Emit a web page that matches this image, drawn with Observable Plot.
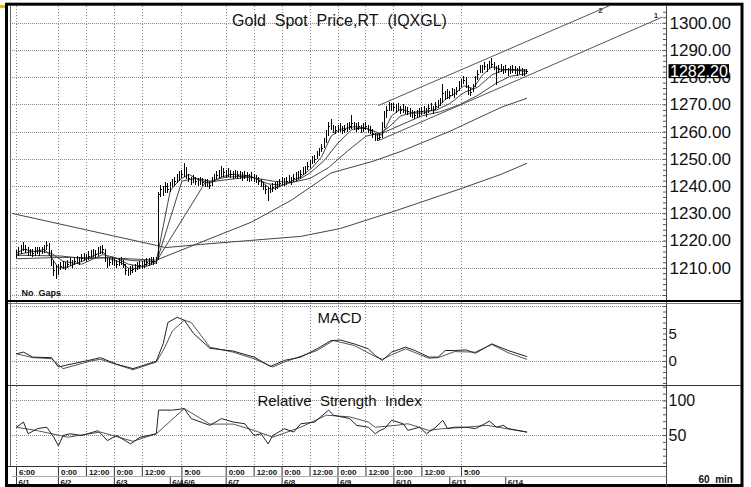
<!DOCTYPE html>
<html><head><meta charset="utf-8">
<script src="https://cdn.jsdelivr.net/npm/d3@7"></script>
<script src="https://cdn.jsdelivr.net/npm/@observablehq/plot@0.6"></script>
<style>
html,body{margin:0;padding:0;background:#fff;}
#wrap{position:relative;width:751px;height:487px;overflow:hidden;background:#fff;}
#corner{position:absolute;left:0;top:5px;width:5px;height:3px;background:#f5b400;}
</style></head><body><div id="wrap"><div id="corner"></div></div>
<script>
// ---------- DATA (hourly bars, index 0 = 6/1 6:00) ----------
const closes = [
1215,1216,1217,1218,1217,1216,1216,1215.5,1216,1216.5,
1216,1216.5,1217,1218.5,1216,1212,1209,1208,1210,1210.5,
1211,1210.5,1211.5,1212,1211.5,1212.5,1213,1212.5,1213.5,1214,
1213.5,1214.5,1215,1215.5,1215,1216,1216.5,1217,1213,1211.5,
1212,1212.5,1212,1211.5,1212,1212.5,1211.5,1209,1208,1209,
1209.5,1210,1210.5,1211,1211,1211.5,1212,1212,1212.5,1212.5,
1213,1237,1239,1238,1240,1239,1240,1241,1242,1243,
1244,1244.5,1246,1244,1243,1242,1242.5,1242,1241.5,1242,
1241.5,1241,1241,1240.5,1242,1243,1244,1244.5,1245,1245,
1244.5,1245,1244.5,1244,1244.5,1244,1244,1243.5,1244,1243.5,
1243,1243.5,1243,1242.5,1242,1241,1240,1239,1237,1239,
1239.5,1240,1240.5,1241,1242,1241.5,1242,1242.5,1242,1243,
1243.5,1244,1244.5,1245.5,1246,1247.5,1248,1249.5,1250,1251.5,
1252.5,1254,1256,1259,1262,1263,1261,1260.5,1261,1261.5,
1260.5,1261,1261.5,1262,1263,1262,1261.5,1262,1261,1261.5,
1262,1261,1260.5,1259,1258,1257.5,1258,1262,1266,1268,
1270,1269,1269,1268.5,1269,1268,1268.5,1268,1267.5,1267,
1266.5,1266,1266.5,1267,1267.5,1268,1267,1268.5,1269,1268,
1269.5,1270,1271,1274,1273,1274,1273.5,1274.5,1274,1275,
1277,1278,1279,1278,1275,1274.5,1276,1279,1281,1283,
1283,1284,1283.5,1284.5,1285,1284,1282,1283,1283.5,1282.5,
1283,1282,1282.5,1283,1282.5,1282,1282.5,1282,1281.8,1282.2];
const highs = [
1216.5,1217.5,1218.5,1219.3,1218.5,1217.5,1217,1217,1217.5,1217.5,
1217.5,1217.5,1218.5,1220,1219,1216.5,1213,1211,1211.5,1212,
1212.5,1212,1213,1213.5,1213,1214,1214.5,1214,1215,1215.5,
1215,1216,1216.5,1217,1216.5,1217.5,1218,1218.5,1217,1213.5,
1213.5,1214,1213.5,1213,1213.5,1214,1213,1211.5,1210,1210.5,
1211,1211.5,1212,1212.5,1212.5,1213,1213.5,1213.5,1214,1214,
1214,1238,1240.5,1240,1241.5,1241,1241.5,1242.5,1243.5,1244.5,
1245.5,1246,1248.5,1247,1244.5,1243.5,1244,1243.5,1243,1243.5,
1243,1242.5,1242.5,1242,1243.5,1244.5,1245.5,1246,1247.4,1246.5,
1246,1246.5,1246,1245.5,1246,1245.5,1245.5,1245,1245.5,1245,
1244.5,1245,1244.5,1244,1243.5,1242.5,1241.5,1240.5,1239.5,1240.5,
1241,1241.5,1242,1242.5,1243.5,1243,1243.5,1244,1243.5,1244.5,
1245,1245.5,1246,1247,1247.5,1249,1249.5,1251,1251.5,1253,
1254,1255.5,1257.5,1260.5,1263.5,1264.5,1262.5,1262,1262.5,1263,
1262,1262.5,1263,1263.5,1266,1263.5,1263,1263.5,1262.5,1263,
1263.5,1262.5,1262,1261,1259.5,1259,1259.5,1263.5,1267.5,1269.5,
1271,1270.5,1270.5,1270,1270.5,1269.5,1270,1269.5,1269,1268.5,
1268,1267.5,1268,1268.5,1269,1269.5,1268.5,1270,1270.5,1269.5,
1271,1271.5,1272.5,1277.6,1275,1275.5,1275,1276,1275.5,1276.5,
1278.5,1279.5,1280.5,1280,1277,1276,1277.5,1280.5,1282.5,1284.5,
1284.5,1285.5,1285,1286,1287,1285.5,1284,1284.5,1285,1284,
1284.5,1283.5,1284,1284.5,1284,1283.5,1284,1283.5,1283,1283];
const lows = [
1213.5,1214.5,1215,1216,1215.5,1214.5,1214.5,1214,1214.5,1215,
1214.5,1215,1215.5,1216.5,1214.5,1210.5,1207,1206,1207.5,1209,
1209.5,1209,1210,1210.5,1210,1211,1211.5,1211,1212,1212.5,
1212,1213,1213.5,1214,1213.5,1214.5,1215,1215,1212,1210,
1210.5,1211,1210.5,1210,1210.5,1211,1210,1207.5,1207,1207.5,
1208,1208.5,1209,1209.5,1209.5,1210,1210.5,1210.5,1211,1211,
1211.5,1213,1236,1236.5,1237.5,1237.5,1238,1239.5,1240,1241,
1242,1243,1243.5,1242.5,1241.5,1240.5,1241,1240.5,1240,1240.5,
1240,1239.5,1239.5,1239,1240,1241.5,1242.5,1243,1243.5,1243.5,
1243,1243.5,1243,1242.5,1243,1242.5,1242.5,1242,1242.5,1242,
1241.5,1242,1241.5,1241,1240.5,1239.5,1238.5,1237,1234.6,1237.5,
1238,1238.5,1239,1239.5,1240.5,1240,1240.5,1241,1240.5,1241.5,
1242,1242.5,1243,1244,1244.5,1246,1246.5,1248,1248.5,1250,
1251,1252.5,1254,1256,1258.5,1260.5,1259.5,1259,1259.5,1260,
1259,1259.5,1260,1260.5,1261,1260.5,1260,1260.5,1259.5,1260,
1260.5,1259.5,1259,1257.5,1256.6,1256.6,1257,1257.5,1261.5,1265,
1267.5,1267.5,1267.5,1267,1267.5,1266.5,1267,1266.5,1266,1265.5,
1265,1264.5,1265,1265.5,1266,1266.5,1265.5,1267,1267.5,1266.5,
1268,1268.5,1269.5,1270.5,1271.5,1272,1272,1273,1272.5,1273.5,
1275,1276.5,1277.5,1276,1273.5,1273,1274.5,1276.5,1279,1281.5,
1281.5,1282.5,1282,1283,1283.5,1282.5,1277,1281.5,1282,1281,
1281.5,1280.5,1281,1281.5,1281,1280.5,1281,1280.5,1280.5,1281];

// moving averages: [bar index, price]
const ma5 = [[0,1215.5],[3,1217],[8,1216],[12,1217],[15,1214],[18,1210],[22,1210.5],[28,1212.5],[34,1215],[37,1216],[40,1213.5],[45,1212],[48,1210],[52,1210],[56,1211.5],[60,1212.5],[66,1238.5],[70,1242.5],[74,1244.5],[78,1242.5],[83,1241.2],[88,1243.5],[92,1244.5],[100,1244],[105,1242],[109,1239],[113,1240],[118,1242],[122,1243.5],[127,1247],[131,1251],[135,1258.5],[139,1261],[145,1262],[150,1261.5],[154,1259],[157,1259],[161,1266],[165,1268.5],[170,1267],[175,1267],[180,1268.5],[184,1272],[188,1274],[192,1277],[196,1276],[200,1281],[204,1284],[208,1283],[214,1282.7],[219,1282.3]];
const ma10 = [[0,1215],[9,1216.5],[15,1215.5],[20,1212.5],[28,1211.5],[37,1215],[42,1214],[48,1211.5],[55,1210.5],[60,1212],[71,1242],[77,1243],[83,1242],[90,1243.5],[100,1243.8],[108,1241],[114,1240.5],[120,1242],[126,1245],[132,1249.5],[138,1256],[144,1261],[150,1261.5],[156,1259.5],[160,1262],[165,1266],[172,1267.5],[180,1268],[186,1270.5],[192,1274.5],[198,1276.5],[204,1281],[210,1283],[219,1282.8]];
const ma20 = [[0,1214.8],[19,1214.5],[30,1213.5],[40,1214],[50,1212.8],[60,1212.5],[81,1241.5],[90,1242.5],[100,1243.5],[110,1242],[118,1241.5],[126,1243],[134,1247],[142,1253],[150,1258.5],[158,1260],[166,1263],[174,1266],[182,1267.5],[190,1270],[198,1273.5],[206,1278],[212,1280.5],[219,1281.5]];
const ma40 = [[0,1213.5],[20,1214],[40,1213.8],[60,1213],[101,1227],[118,1235],[135,1245],[153,1249.3],[165,1252.9],[186,1260.3],[208,1269.1],[219,1272.4]];
const maLong = [[-1.7,1230.1],[60,1218.4],[64,1217.6],[79,1218.75],[100,1220.2],[122,1221.7],[139,1224.6],[162,1230.9],[191,1239.3],[208,1244.5],[219,1248.5]];

// trend channel lines (labelled 1 and 2)
const trend1 = [[155.4,1256.9],[277.1,1302.2]];
const trend2 = [[155.4,1269.8],[255.8,1306.9]];

// MACD and signal: [bar index, value]
const macdLine = [[0,1.4],[3,1.7],[7,0.8],[15,0.7],[18,-1.0],[21,-0.7],[32,0.3],[36,0.7],[43,-0.5],[50,-1.3],[60,0.05],[63,3.3],[65,7.1],[69,8.05],[72,7.5],[76,5.1],[83,2.4],[93,1.9],[102,0.8],[109,-0.9],[115,0.2],[122,0.8],[129,2.3],[135,3.8],[139,3.9],[145,3.2],[151,2.3],[154,1.1],[157,0.2],[161,1.7],[167,2.6],[171,2],[177,0.8],[181,0.8],[184,2],[188,2],[193,2.1],[197,1.5],[204,3.2],[211,2],[219,0.9]];
const macdSignal = [[0,1.4],[7,0.7],[15,0.5],[20,-1.3],[32,0.1],[36,0.4],[50,-1.5],[60,-0.1],[63,2],[67,5.6],[72,7.5],[75,7.1],[83,2.6],[93,1.7],[102,0.5],[110,-1.0],[115,-0.1],[129,2],[136,3.8],[145,2.9],[154,0.9],[157,0.4],[161,1.2],[167,2.3],[177,0.6],[181,0.7],[188,1.8],[197,1.7],[204,3.1],[211,1.6],[219,0.4]];

// RSI and its average: [bar index, value]
const rsiLine = [[0,62],[3,69.5],[5,52.5],[9,60],[13,62],[16,47.5],[18,35],[20,50],[23,52.5],[28,50],[33,55],[35,57],[39,42.6],[43,50],[49,37.8],[53,47.5],[60,52.5],[61,86.8],[67,86.8],[72,89],[75,74.5],[83,64.7],[88,74.5],[93,69.5],[98,67],[102,50],[105,52.5],[108,37.8],[110,50],[115,59.8],[119,55],[122,67],[128,69.5],[134,86.8],[136,79.4],[143,74.5],[146,64.7],[151,62],[154,52.5],[156,57.4],[158,60],[161,72],[166,67],[168,57.4],[173,62],[176,52.5],[180,62],[183,72],[185,60],[188,62],[193,62],[197,60],[201,67],[203,71],[206,62],[209,64.7],[211,60],[219,55]];
const rsiAvg = [[0,62],[9,57],[22,47.5],[36,55],[50,41.6],[60,52.5],[72,89],[83,66.5],[93,66.5],[102,57.4],[110,47.5],[122,62],[133,79.4],[143,77],[151,69.5],[154,62],[163,64.7],[168,67],[177,57.4],[183,60],[193,62],[202,64.7],[219,55]];

// axis ticks
const priceTicks = [1210,1220,1230,1240,1250,1260,1270,1280,1290,1300];
const priceGrid = [1200,1210,1220,1230,1240,1250,1260,1270,1280,1290,1300];
const macdTicks = [0,5];
const macdGrid = [0,10];
const rsiTicks = [50,100];
const timeTickIdx = [0,18,30,42,54,71,90,102,114,126,138,150,162,174,191];
const timeTickLabels = ["6:00","0:00","12:00","0:00","12:00","5:00","0:00","12:00","0:00","12:00","0:00","12:00","0:00","12:00","5:00"];
const dateTickIdx = [0,18,42,66,71,90,114,138,162,186,210];
const dateTickLabels = ["6/1","6/2","6/3","6/4","6/6","6/7","6/8","6/9","6/10","6/11","6/14"];
const lastPrice = 1282.20;

// ---------- DRAWING ----------
const FONT = '"Liberation Sans", Arial, sans-serif';
const wrap = document.getElementById("wrap");
const xDomain = [-1.717, 279];
const bars = closes.map((c, i) => ({i, c, h: highs[i], l: lows[i]}));
const timeTicks = timeTickIdx.map((i, k) => ({i, t: timeTickLabels[k]}));
const dateTicks = dateTickIdx.map((i, k) => ({i, t: dateTickLabels[k]}));
const gridH = {stroke: "#8a8a8a", strokeDasharray: "1,1", shapeRendering: "crispEdges"};
const gridV = {stroke: "#8a8a8a", strokeDasharray: "1,2", shapeRendering: "crispEdges"};
const lineStyle = {x: d => d[0], y: d => d[1], stroke: "#444", strokeWidth: 1, curve: "linear"};
function st(top) {
  return {position: "absolute", left: "0px", top: top + "px", background: "transparent", overflow: "visible", fontFamily: FONT, color: "#000"};
}
const minorPrice = d3.range(1200, 1306, 2);

const pricePlot = Plot.plot({
  width: 751, height: 300, marginLeft: 12, marginRight: 85, marginTop: 6, marginBottom: 1,
  x: {domain: xDomain, axis: null},
  y: {domain: [1198.53, 1306.13], axis: null},
  style: st(0),
  marks: [
    Plot.ruleY(priceGrid, gridH),
    Plot.ruleX(timeTickIdx, gridV),
    Plot.line(maLong, lineStyle),
    Plot.line(ma40, lineStyle),
    Plot.line(ma20, lineStyle),
    Plot.line(ma10, lineStyle),
    Plot.line(ma5, lineStyle),
    Plot.ruleX(bars, {x: "i", y1: "l", y2: "h", stroke: "#000", strokeWidth: 1, shapeRendering: "crispEdges"}),
    Plot.ruleY(bars, {y: "c", x1: "i", x2: d => d.i + 0.6, stroke: "#000", shapeRendering: "crispEdges"}),
    Plot.line(trend1, {...lineStyle, stroke: "#555", clip: true}),
    Plot.line(trend2, {...lineStyle, stroke: "#555", clip: true}),
    Plot.text([trend2[1]], {x: d => d[0], y: d => d[1], text: () => "2", dx: -12, dy: 6, fontSize: 8, fontWeight: "bold", fill: "#333"}),
    Plot.text([trend1[1]], {x: d => d[0], y: d => d[1], text: () => "1", dx: -6, dy: -2, fontSize: 8, fontWeight: "bold", fill: "#333"}),
    Plot.ruleY(minorPrice, {x1: xDomain[1] - 1.3, x2: xDomain[1], stroke: "#555"}),
    Plot.text(priceTicks, {y: d => d, text: d => d.toFixed(2), frameAnchor: "right", textAnchor: "start", dx: 3, fontSize: 17, fill: "#111"}),
    Plot.text(["Gold\u00a0 Spot\u00a0 Price,RT\u00a0 (IQXGL)"], {text: d => d, frameAnchor: "top", dy: 8.5, fontSize: 16, fill: "#111"}),
    Plot.text(["No\u00a0 Gaps"], {text: d => d, frameAnchor: "bottom-left", dx: 9, dy: -4, textAnchor: "start", fontSize: 9, fontWeight: "bold", fill: "#111"})
  ]
});
wrap.appendChild(pricePlot);
// last price marker on the price axis (covers the 1280.00 label as in the original)
{
  const y = pricePlot.scale("y").apply(lastPrice);
  const svg = d3.select(pricePlot);
  svg.append("rect").attr("x", 668.5).attr("y", y - 7).attr("width", 60.5).attr("height", 14).attr("fill", "#000");
  svg.append("text").attr("x", 670).attr("y", y + 6).attr("fill", "#fff").attr("text-anchor", "start")
    .attr("font-size", 16).attr("font-family", FONT).text(lastPrice.toFixed(2));
}

const macdPlot = Plot.plot({
  width: 751, height: 85, marginLeft: 12, marginRight: 85, marginTop: 2, marginBottom: 0,
  x: {domain: xDomain, axis: null},
  y: {domain: [-4.364, 10.727], axis: null},
  style: st(300),
  marks: [
    Plot.ruleY(macdGrid, gridH),
    Plot.ruleX(timeTickIdx, gridV),
    Plot.line(macdSignal, {...lineStyle, stroke: "#555"}),
    Plot.line(macdLine, {...lineStyle, stroke: "#222"}),
    Plot.ruleY(d3.range(-4, 11, 1), {x1: xDomain[1] - 1.3, x2: xDomain[1], stroke: "#555"}),
    Plot.text(macdTicks, {y: d => d, text: d => String(d), frameAnchor: "right", textAnchor: "start", dx: 2, fontSize: 15, fill: "#111"}),
    Plot.text(["MACD"], {text: d => d, frameAnchor: "top", dy: 10, fontSize: 15, fill: "#111"})
  ]
});
wrap.appendChild(macdPlot);

const rsiPlot = Plot.plot({
  width: 751, height: 81, marginLeft: 12, marginRight: 85, marginTop: 1, marginBottom: 0,
  x: {domain: xDomain, axis: null},
  y: {domain: [5.07, 121], axis: null},
  style: st(385),
  marks: [
    Plot.ruleY(rsiTicks, gridH),
    Plot.ruleX(timeTickIdx, gridV),
    Plot.line(rsiAvg, {...lineStyle, stroke: "#555"}),
    Plot.line(rsiLine, {...lineStyle, stroke: "#222"}),
    Plot.ruleY(d3.range(10, 121, 10), {x1: xDomain[1] - 1.3, x2: xDomain[1], stroke: "#555"}),
    Plot.text(rsiTicks, {y: d => d, text: d => String(d), frameAnchor: "right", textAnchor: "start", dx: 2, fontSize: 16, fill: "#111"}),
    Plot.text(["Relative\u00a0 Strength\u00a0 Index"], {text: d => d, frameAnchor: "top", dy: 9, fontSize: 15, fill: "#111"})
  ]
});
wrap.appendChild(rsiPlot);

const timeRow = Plot.plot({
  width: 751, height: 10, marginLeft: 12, marginRight: 85, marginTop: 0, marginBottom: 0,
  x: {domain: xDomain, axis: null},
  style: st(466),
  marks: [
    Plot.tickX(timeTicks, {x: "i", stroke: "#333"}),
    Plot.text(timeTicks, {x: "i", text: "t", dx: 2.5, dy: 0.5, textAnchor: "start", fontSize: 8, fontWeight: "bold", fill: "#111"})
  ]
});
wrap.appendChild(timeRow);

const dateRow = Plot.plot({
  width: 751, height: 10, marginLeft: 12, marginRight: 85, marginTop: 0, marginBottom: 0,
  x: {domain: xDomain, axis: null},
  style: st(476),
  marks: [
    Plot.tickX(dateTicks, {x: "i", stroke: "#333"}),
    Plot.text(dateTicks, {x: "i", text: "t", dx: 2, dy: 0.5, textAnchor: "start", fontSize: 8, fontWeight: "bold", fill: "#111"}),
    Plot.text(["60\u00a0 min"], {text: d => d, frameAnchor: "right", textAnchor: "start", dx: 32, dy: -1.5, fontSize: 10, fontWeight: "bold", fill: "#111"})
  ]
});
wrap.appendChild(dateRow);

// ---------- window frame and panel separators ----------
const ov = d3.select(wrap).append("svg").attr("width", 751).attr("height", 487)
  .style("position", "absolute").style("left", "0px").style("top", "0px").style("pointer-events", "none");
ov.append("rect").attr("x", 6.5).attr("y", 4.2).attr("width", 735.5).attr("height", 481.3)
  .attr("fill", "none").attr("stroke", "#000").attr("stroke-width", 3);
const L = (x1, y1, x2, y2, s, w) => ov.append("line").attr("x1", x1).attr("y1", y1).attr("x2", x2).attr("y2", y2)
  .attr("stroke", s).attr("stroke-width", w).attr("shape-rendering", "crispEdges");
L(10.5, 6, 10.5, 466, "#666", 1);
L(666.5, 6, 666.5, 486, "#444", 1);
L(8, 300.5, 741, 300.5, "#000", 2);
L(8, 303.5, 741, 303.5, "#777", 1);
L(8, 385.5, 741, 385.5, "#333", 1.5);
L(8, 466.5, 666, 466.5, "#333", 1);
L(12, 476.5, 666, 476.5, "#aaa", 1);
</script></body></html>
